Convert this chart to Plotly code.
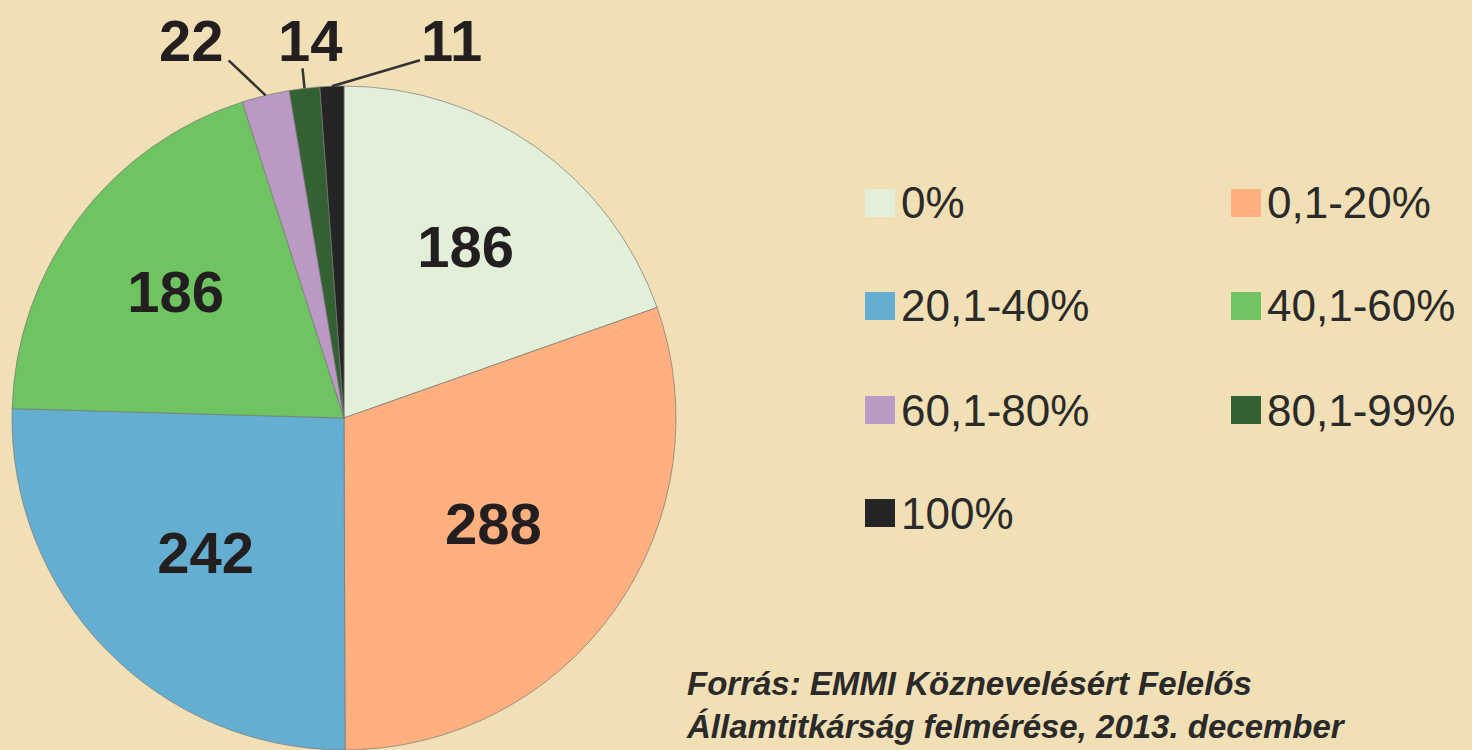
import math
import plotly.graph_objects as go

# ---------------- data ----------------
categories = ["0%", "0,1-20%", "20,1-40%", "40,1-60%", "60,1-80%", "80,1-99%", "100%"]
values = [186, 288, 242, 186, 22, 14, 11]
colors = ["#E2EFD9", "#FFB07E", "#64AED2", "#6DC460", "#BA99C3", "#336133", "#252525"]
source_lines = ["Forrás: EMMI Köznevelésért Felelős", "Államtitkárság felmérése, 2013. december"]

# ---------------- layout constants (pixels) ----------------
W, H = 1472, 750
CX, CY, R = 344, 418, 332          # pie centre and radius
BG = "#F1DFB5"
INK = "#231F20"
FONT = "Liberation Sans, Arial, sans-serif"


def px(x):
    return x / W


def py(y):
    return 1 - y / H


# label offsets for the small slices (line end, text centre), relative to slice edge
outside_style = {
    4: ((-37, -35), (-74, -55)),
    5: ((-2, -20), (6, -48)),
    6: ((88, -26), (120, -46)),
}

total = sum(values)
textpos = ["inside" if i not in outside_style else "none" for i in range(len(values))]

fig = go.Figure()
fig.add_trace(go.Pie(
    labels=categories,
    values=values,
    sort=False,
    direction="clockwise",
    rotation=0,
    marker=dict(colors=colors, line=dict(color="rgba(120,120,120,0.7)", width=1)),
    texttemplate="%{value}",
    textposition=textpos,
    insidetextorientation="horizontal",
    textfont=dict(family=FONT, size=58, color=INK, weight="bold"),
    domain=dict(x=[px(CX - R), px(CX + R)], y=[py(CY + R), py(CY - R)]),
    showlegend=False,
    hoverinfo="label+value",
))

shapes = []
annotations = []

# outside labels with leader lines for the small slices
cum = 0
for i, v in enumerate(values):
    start = cum
    cum += v
    if i not in outside_style:
        continue
    mid = (start + cum) / 2 / total * 2 * math.pi
    ex = CX + R * math.sin(mid)
    ey = CY - R * math.cos(mid)
    (lx, ly), (tx, ty) = outside_style[i]
    shapes.append(dict(type="line", xref="paper", yref="paper",
                       x0=px(ex), y0=py(ey), x1=px(ex + lx), y1=py(ey + ly),
                       line=dict(color="#333333", width=2.5)))
    annotations.append(dict(text=str(v), xref="paper", yref="paper",
                            x=px(ex + tx), y=py(ey + ty), xanchor="center", yanchor="middle",
                            showarrow=False,
                            font=dict(family=FONT, size=58, color=INK, weight="bold")))

# legend (2 columns)
col_x = [865, 1231]
row_y = [203, 306, 410, 513]
SQ = 30
for i, (cat, col) in enumerate(zip(categories, colors)):
    r, c = divmod(i, 2)
    x0 = col_x[c]
    yc = row_y[r]
    shapes.append(dict(type="rect", xref="paper", yref="paper",
                       x0=px(x0), x1=px(x0 + SQ), y0=py(yc + 14), y1=py(yc - 14),
                       fillcolor=col, line=dict(width=0)))
    annotations.append(dict(text=cat, xref="paper", yref="paper",
                            x=px(x0 + SQ + 4), y=py(yc), xanchor="left", yanchor="middle",
                            showarrow=False,
                            font=dict(family=FONT, size=44, color="#2a2a2a")))

# source note
annotations.append(dict(text="<br>".join(source_lines), xref="paper", yref="paper",
                        x=px(684), y=py(747), xanchor="left", yanchor="bottom",
                        align="left", showarrow=False,
                        font=dict(family=FONT, size=33, color="#2a2a2a",
                                  weight="bold", style="italic")))

fig.update_layout(
    width=W, height=H,
    margin=dict(l=0, r=0, t=0, b=0),
    paper_bgcolor=BG, plot_bgcolor=BG,
    shapes=shapes, annotations=annotations,
    showlegend=False,
)

fig.write_html(
    "out.html",
    config={"displayModeBar": False},
    post_script="document.body.style.margin='0';document.body.style.overflow='hidden';",
)
